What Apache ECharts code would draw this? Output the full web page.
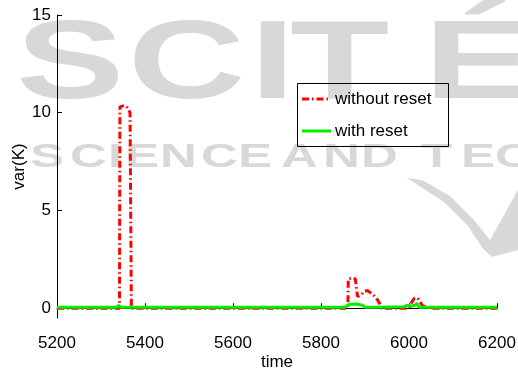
<!DOCTYPE html>
<html>
<head>
<meta charset="utf-8">
<script src="https://cdn.jsdelivr.net/npm/echarts@6/dist/echarts.min.js"></script>
<style>
html,body{margin:0;padding:0;background:#fff;}
#c{width:518px;height:371px;}
</style>
</head>
<body>
<div id="c"></div>
<script>
// ---- data ----
const seriesNames = ['without reset', 'with reset'];
const xTicks = [5200, 5400, 5600, 5800, 6000, 6200];
const yTicks = [0, 5, 10, 15];

const timeWithout = [5200, 5250, 5300, 5342, 5343, 5350, 5357, 5362, 5366, 5368, 5369, 5400, 5500, 5600, 5700, 5800,
  5861, 5862, 5866, 5872, 5878, 5881, 5883, 5886, 5892, 5898, 5905, 5912, 5919, 5926, 5932, 5936, 5938,
  5970, 6000, 6006, 6012, 6017, 6022, 6030, 6040, 6050, 6100, 6150, 6200];
const varWithout = [0, 0, 0, 0, 10.3, 10.35, 10.35, 10.2, 10.0, 9.9, 0, 0, 0, 0, 0, 0,
  0, 1.5, 1.55, 1.55, 1.5, 1.45, 0.6, 0.5, 0.7, 0.88, 0.9, 0.8, 0.68, 0.5, 0.3, 0.2, 0,
  0, 0, 0.3, 0.5, 0.55, 0.45, 0.15, 0.05, 0, 0, 0, 0];

const timeWith = [5200, 5300, 5335, 5340, 5345, 5360, 5500, 5700, 5855, 5860, 5865, 5880, 5895, 5900, 5905, 5920,
  5990, 5995, 5999, 6004, 6008, 6013, 6018, 6023, 6030, 6100, 6200];
const varWith = [0.05, 0.05, 0.05, 0.15, 0.05, 0.05, 0.05, 0.05, 0.05, 0.15, 0.2, 0.22, 0.15, 0.05, 0.05, 0.05,
  0.08, 0.15, 0.25, 0.1, 0.05, 0.15, 0.25, 0.05, 0.05, 0.05, 0.05];

const pairs = (xs, ys) => xs.map((x, i) => [x, ys[i]]);
const FONT = 'Liberation Sans, Arial, Helvetica, sans-serif';
const WM = '#d8d8d8';
const RED = '#ff0000';
const GREEN = '#00f000';
const redLine = { color: RED, width: 3, type: [7, 3, 1.5, 3] };
const greenLine = { color: GREEN, width: 3, type: 'solid' };

// watermark (background decoration)
const big = [['S', 16], ['C', 128], ['I', 250], ['T', 290], ['É', 424]];
const small = [['S', 30], ['C', 70], ['I', 108], ['E', 125], ['N', 160], ['C', 201], ['E', 238],
  ['A', 281], ['N', 323], ['D', 361], ['T', 421], ['E', 461], ['C', 495]];
const graphic = [];
big.forEach(([ch, x]) => graphic.push({
  type: 'text', x: x, y: 67, scaleX: 1.45, z: -10, silent: true,
  style: { text: ch, font: 'bold 112px ' + FONT, fill: WM,
    textAlign: 'left', textVerticalAlign: 'middle' }
}));
small.forEach(([ch, x]) => graphic.push({
  type: 'text', x: x, y: 158, scaleX: 1.5, z: -10, silent: true,
  style: { text: ch, font: 'bold 34px ' + FONT, fill: WM, textAlign: 'left', textVerticalAlign: 'middle' }
}));
graphic.push({
  type: 'polygon', z: -10, silent: true,
  shape: { points: [[407, 178], [422, 180], [450, 196], [474, 220], [490, 240], [518, 190], [518, 250],
    [492, 257], [484, 250], [468, 226], [444, 202]] },
  style: { fill: WM }
});
// legend (drawn manually so the line samples match the series styles)
graphic.push({
  type: 'group', z: 50,
  children: [
    { type: 'rect', shape: { x: 297.5, y: 83.5, width: 151, height: 63 },
      style: { fill: 'transparent', stroke: '#000', lineWidth: 1 } },
    { type: 'line', shape: { x1: 302, y1: 99, x2: 331, y2: 99 },
      style: { stroke: RED, lineWidth: redLine.width, lineDash: redLine.type } },
    { type: 'text', x: 335, y: 99,
      style: { text: seriesNames[0], font: '17px ' + FONT, fill: '#000', textVerticalAlign: 'middle' } },
    { type: 'line', shape: { x1: 302, y1: 131, x2: 331, y2: 131 },
      style: { stroke: GREEN, lineWidth: greenLine.width } },
    { type: 'text', x: 335, y: 131,
      style: { text: seriesNames[1], font: '17px ' + FONT, fill: '#000', textVerticalAlign: 'middle' } }
  ]
});

const chart = echarts.init(document.getElementById('c'), null, { renderer: 'canvas' });
chart.setOption({
  animation: false,
  backgroundColor: '#fff',
  textStyle: { fontFamily: FONT },
  graphic: graphic,
  grid: { left: 57, right: 21, top: 15, bottom: 53, containLabel: false, outerBoundsMode: 'none' },
  xAxis: {
    type: 'value', min: 5200, max: 6200, interval: 200,
    name: 'time', nameLocation: 'middle', nameGap: 36, nameMoveOverlap: false,
    nameTextStyle: { fontSize: 17, color: '#000', fontFamily: FONT },
    axisLine: { show: true, lineStyle: { color: '#000', width: 1 } },
    axisTick: { show: true, inside: true, length: 5, lineStyle: { color: '#000' } },
    axisLabel: { fontSize: 17, color: '#000', margin: 17, fontFamily: FONT,
      customValues: xTicks, formatter: v => String(v) },
    splitLine: { show: false }
  },
  yAxis: {
    type: 'value', min: -0.5, max: 15,
    name: 'var(K)', nameLocation: 'middle', nameGap: 29, nameMoveOverlap: false,
    nameTextStyle: { fontSize: 17, color: '#000', fontFamily: FONT },
    axisLine: { show: true, lineStyle: { color: '#000', width: 1 } },
    axisTick: { show: true, inside: true, length: 5, customValues: yTicks, lineStyle: { color: '#000' } },
    axisLabel: { fontSize: 17, color: '#000', margin: 6, fontFamily: FONT, customValues: yTicks,
      formatter: v => String(v) },
    splitLine: { show: false }
  },
  series: [
    {
      name: seriesNames[0], type: 'line', data: pairs(timeWithout, varWithout),
      symbol: 'none', color: RED, lineStyle: redLine
    },
    {
      name: seriesNames[1], type: 'line', data: pairs(timeWith, varWith),
      symbol: 'none', color: GREEN, lineStyle: greenLine
    }
  ]
});
</script>
</body>
</html>
